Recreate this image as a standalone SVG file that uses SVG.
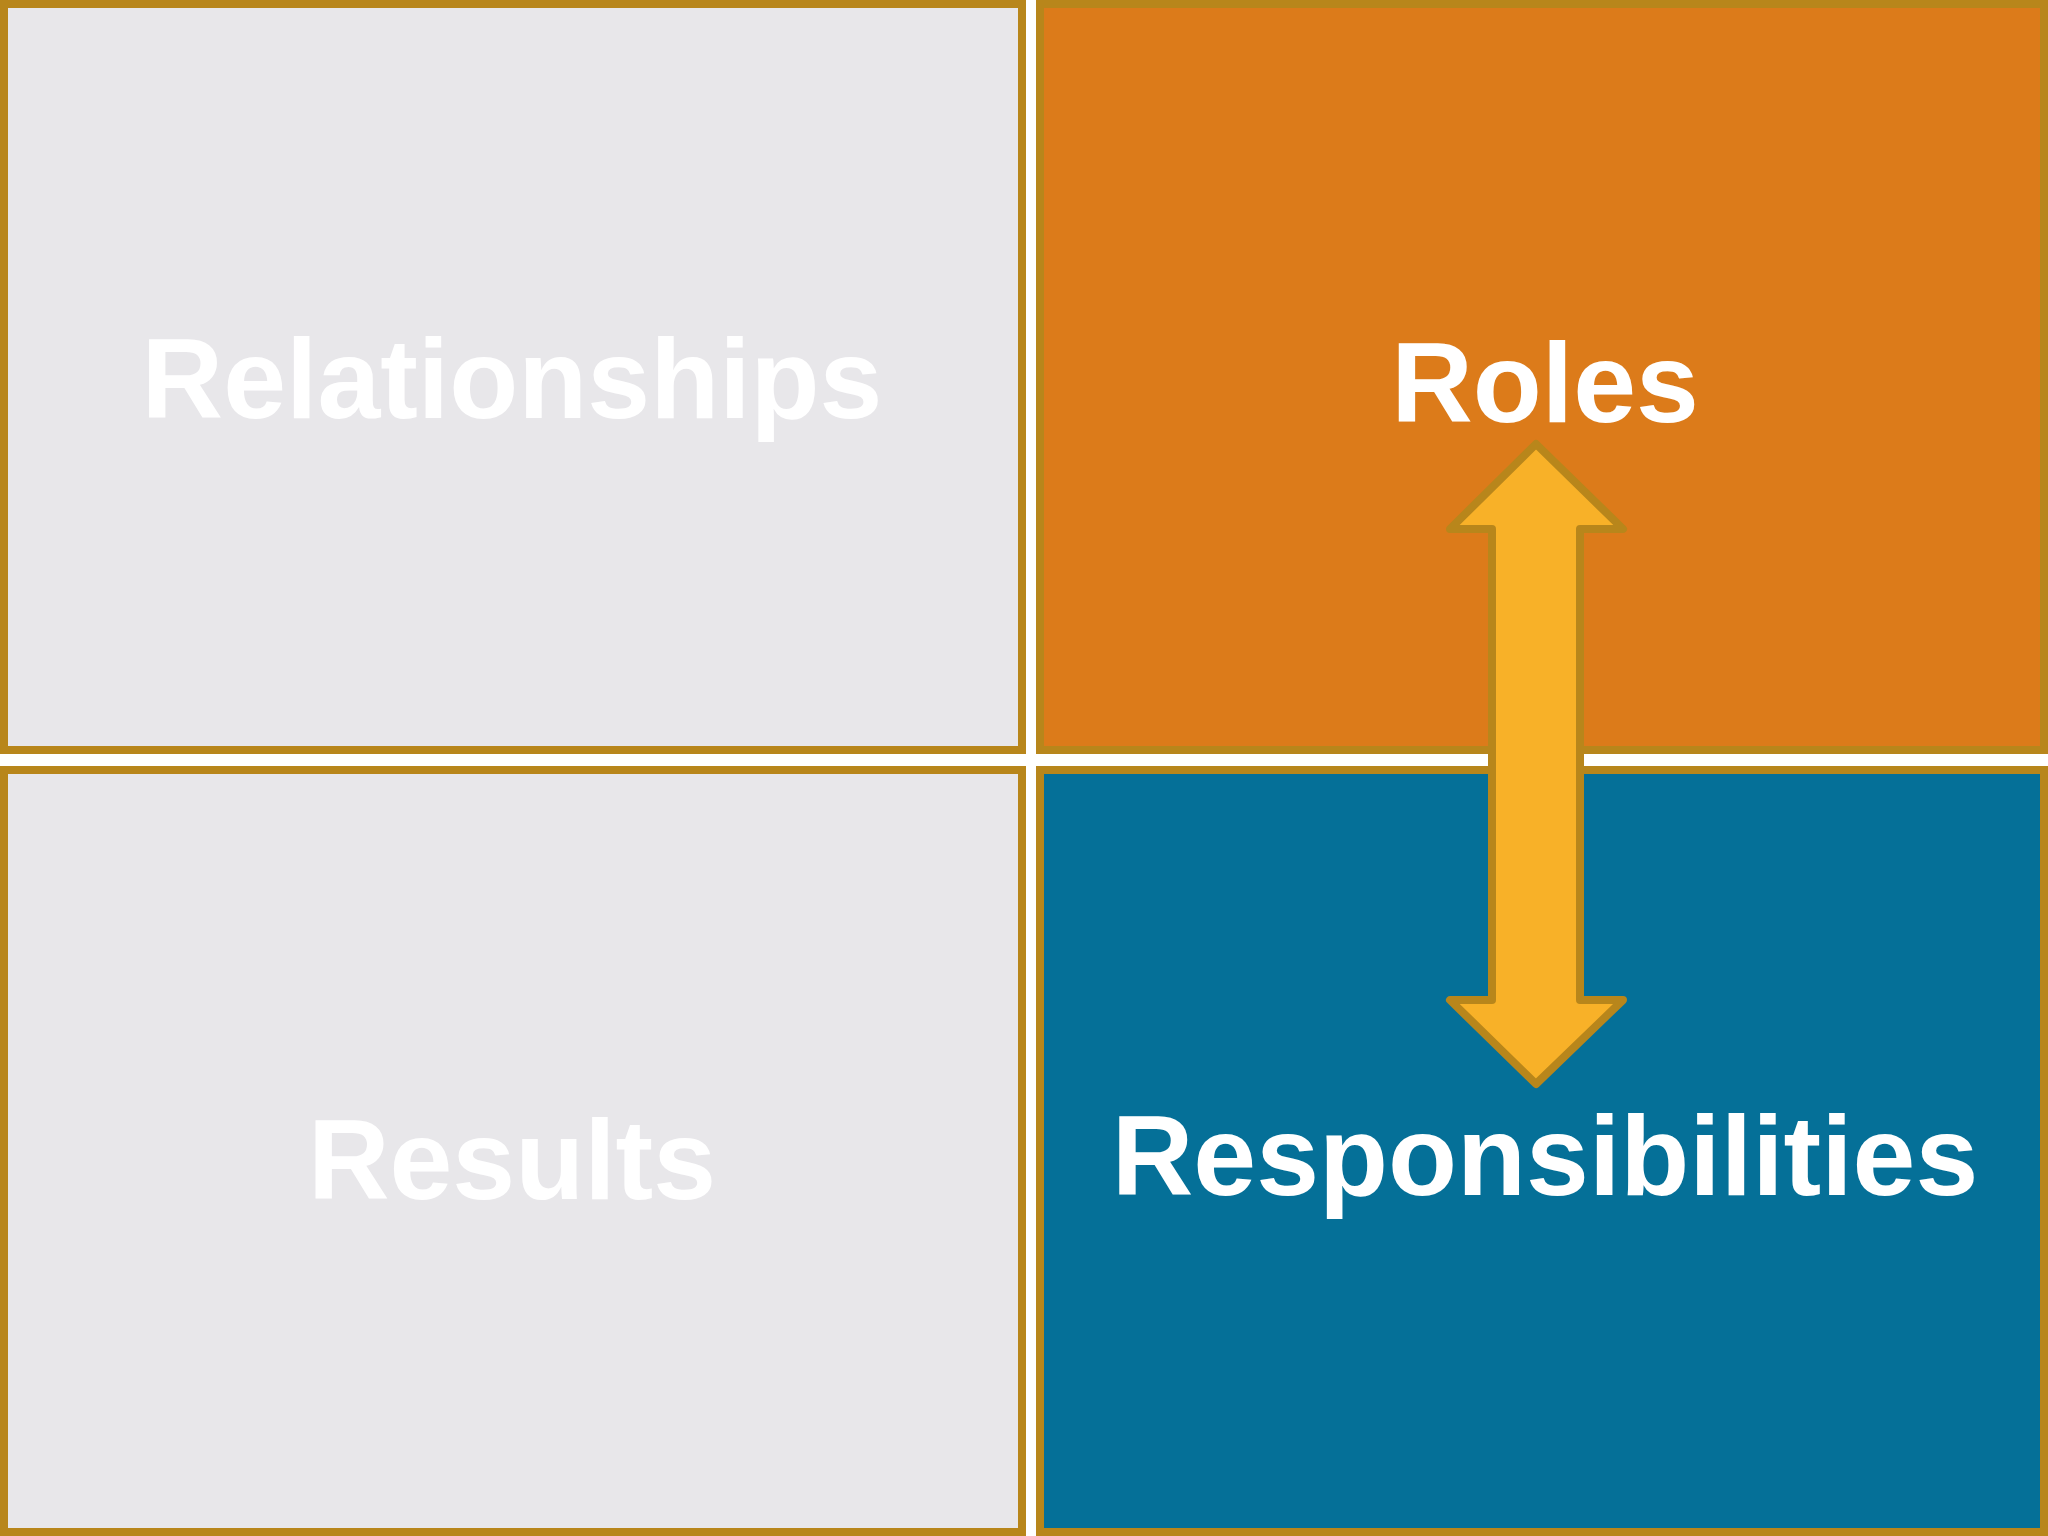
<svg xmlns="http://www.w3.org/2000/svg" width="2048" height="1536" viewBox="0 0 2048 1536">
<style>
.q{stroke:#B8861B;stroke-width:8}
.t{font-family:"Liberation Sans",Arial,sans-serif;font-weight:bold;font-size:113px;fill:#fff;text-anchor:middle}
</style>
<rect width="2048" height="1536" fill="#fff"/>
<g id="relationships"><rect class="q" x="4" y="4" width="1018" height="746" fill="#E8E7EA"/><text class="t" x="512" y="418">Relationships</text></g>
<g id="roles"><rect class="q" x="1040" y="4" width="1004" height="746" fill="#DC7B1A"/><text class="t" x="1545" y="422">Roles</text></g>
<g id="results"><rect class="q" x="4" y="770" width="1018" height="762" fill="#E8E7EA"/><text class="t" x="512" y="1199">Results</text></g>
<g id="responsibilities"><rect class="q" x="1040" y="770" width="1004" height="762" fill="#057098"/><text class="t" x="1545" y="1195">Responsibilities</text></g>
<g id="connectors"><path d="M1536 444 L1623 529 L1580 529 L1580 1000 L1623 1000 L1536 1084 L1450 1000 L1492 1000 L1492 529 L1450 529 Z" fill="#F8B128" stroke="#B8861B" stroke-width="8" stroke-linejoin="round"/></g>
</svg>
